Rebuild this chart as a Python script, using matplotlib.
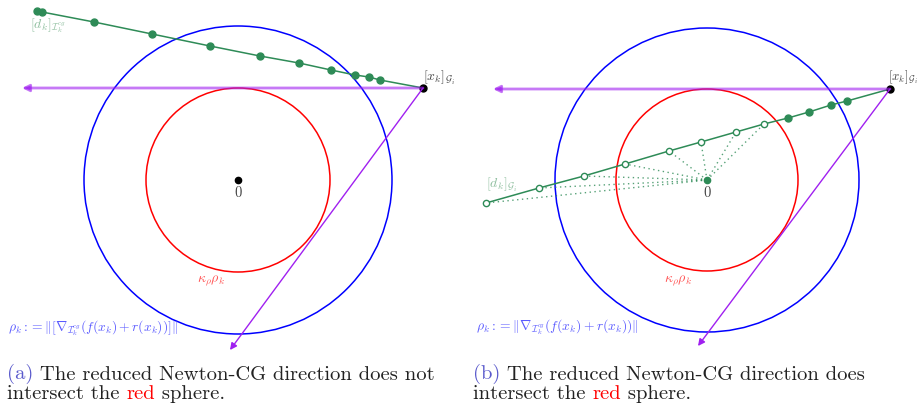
import matplotlib.pyplot as plt
from matplotlib.patches import Circle

plt.rcParams['mathtext.fontset'] = 'cm'

# geometry of the two panels (units: relative to the centre "0", y up)
r_red_a, r_blue_a = 92, 154
r_red_b, r_blue_b = 91, 152
xk_a = (185, 92)
xk_b = (183, 91)
horiz_end_a = (-216, 92)
horiz_end_b = (-214, 91)
diag_end_a = (-8, -170)
diag_end_b = (-9, -166)

# CG iterates, panel a (all filled)
cg_a_x = [142, 131, 117, 93, 61, 22, -28, -86, -144, -196, -201]
cg_a_y = [100, 103, 105, 110, 117, 124, 134, 146, 158, 168, 169]

# CG iterates, panel b (filled outside red sphere, hollow after)
cg_b_fill_x = [140, 124, 102, 81]
cg_b_fill_y = [79, 75, 68, 62]
cg_b_open_x = [57, 29, -6, -38, -82, -123, -168, -221]
cg_b_open_y = [56, 48, 38, 29, 16, 4, -8, -23]

GREEN = '#2e8b57'
LGREEN = '#8fbf9f'
PURPLE = '#a020f0'
LABELBLUE = '#5a5aff'
CAPBLUE = '#5a5acc'
TXT = '#222222'

fig = plt.figure(figsize=(9.2, 4.03), dpi=100)
ax_a = fig.add_axes([0, 0, 0.5, 1])
ax_b = fig.add_axes([0.5, 0, 0.5, 1])
ax_a.set_xlim(-238, 222)
ax_a.set_ylim(-223, 180)
ax_b.set_xlim(-247, 213)
ax_b.set_ylim(-223, 180)
for ax in (ax_a, ax_b):
    ax.set_aspect('equal')
    ax.axis('off')


def arrow(ax, start, end, lw, alpha=1.0, ms=10):
    ax.annotate('', xy=end, xytext=start,
                arrowprops=dict(arrowstyle='-|>', color=PURPLE, lw=lw, alpha=alpha,
                                shrinkA=0, shrinkB=0, mutation_scale=ms))


# panel a
ax = ax_a
ax.add_patch(Circle((0, 0), r_blue_a, fill=False, color='blue', lw=1.1))
ax.add_patch(Circle((0, 0), r_red_a, fill=False, color='red', lw=1.1))
arrow(ax, xk_a, horiz_end_a, 2.0, alpha=0.6)
arrow(ax, xk_a, diag_end_a, 1.0)
ax.plot([xk_a[0]] + cg_a_x, [xk_a[1]] + cg_a_y, color=GREEN, lw=1.1,
        marker='o', ms=5, markevery=list(range(1, len(cg_a_x) + 1)))
ax.plot(0, 0, 'o', color='black', ms=4.5)
ax.plot(*xk_a, 'o', color='black', ms=5)
ax.text(0, -13, '$0$', ha='center', va='center', fontsize=10.5, color='#444444')
ax.text(185, 102, r'$[x_k]_{\mathcal{G}_i}$', ha='left', va='center', fontsize=10, color='#444444')
ax.text(-208, 154, r'$[d_k]_{\mathcal{I}_k^{cg}}$', ha='left', va='center', fontsize=10, color=LGREEN)
ax.text(-27, -101, r'$\kappa_\rho\rho_k$', ha='center', va='center', fontsize=10, color='#ff5555')
ax.text(-230, -148, r'$\rho_k := \|[\nabla_{\mathcal{I}_k^{cg}}(f(x_k) + r(x_k))]\|$',
        ha='left', va='center', fontsize=9.8, color=LABELBLUE)

# panel b
ax = ax_b
ax.add_patch(Circle((0, 0), r_blue_b, fill=False, color='blue', lw=1.1))
ax.add_patch(Circle((0, 0), r_red_b, fill=False, color='red', lw=1.1))
arrow(ax, xk_b, horiz_end_b, 2.0, alpha=0.6)
arrow(ax, xk_b, diag_end_b, 1.0)
for px, py in zip(cg_b_open_x, cg_b_open_y):
    ax.plot([0, px], [0, py], ls=(0, (1, 2.5)), color=GREEN, lw=1.0, alpha=0.8)
line_x = [xk_b[0]] + cg_b_fill_x + cg_b_open_x
line_y = [xk_b[1]] + cg_b_fill_y + cg_b_open_y
ax.plot(line_x, line_y, color=GREEN, lw=1.1)
ax.plot(cg_b_fill_x, cg_b_fill_y, 'o', color=GREEN, ms=5)
ax.plot(cg_b_open_x, cg_b_open_y, 'o', mfc='white', mec=GREEN, mew=1.0, ms=4.5)
ax.plot(0, 0, 'o', color=GREEN, ms=4.5)
ax.plot(*xk_b, 'o', color='black', ms=5)
ax.text(0, -13, '$0$', ha='center', va='center', fontsize=10.5, color='#444444')
ax.text(181, 103, r'$[x_k]_{\mathcal{G}_i}$', ha='left', va='center', fontsize=9.3, color='#444444')
ax.text(-221, -5, r'$[d_k]_{\mathcal{G}_i}$', ha='left', va='center', fontsize=10, color=LGREEN)
ax.text(-29, -101, r'$\kappa_\rho\rho_k$', ha='center', va='center', fontsize=10, color='#ff5555')
ax.text(-231, -147, r'$\rho_k := \|\nabla_{\mathcal{I}_k^{cg}}(f(x_k) + r(x_k))\|$',
        ha='left', va='center', fontsize=9.8, color=LABELBLUE)


# captions, built piece by piece so single words can be coloured
def chain(x, y_px, pieces, size=14.8):
    t = fig.text(x / 920, 1 - y_px / 403, pieces[0][0], color=pieces[0][1],
                 fontsize=size, family='cmr10', ha='left', va='baseline')
    for txt, col in pieces[1:]:
        t = fig.add_artist(plt.Annotation(txt, xy=(1, 0), xycoords=t, color=col,
                                          fontsize=size, family='cmr10',
                                          ha='left', va='bottom'))


chain(7, 379, [('(a)', CAPBLUE), (' The reduced Newton-CG direction does not', TXT)])
chain(7, 399, [('intersect the ', TXT), ('red', 'red'), (' sphere.', TXT)])
chain(473, 379, [('(b)', CAPBLUE), (' The reduced Newton-CG direction does', TXT)])
chain(473, 399, [('intersect the ', TXT), ('red', 'red'), (' sphere.', TXT)])

fig.savefig('out.png', dpi=100)
